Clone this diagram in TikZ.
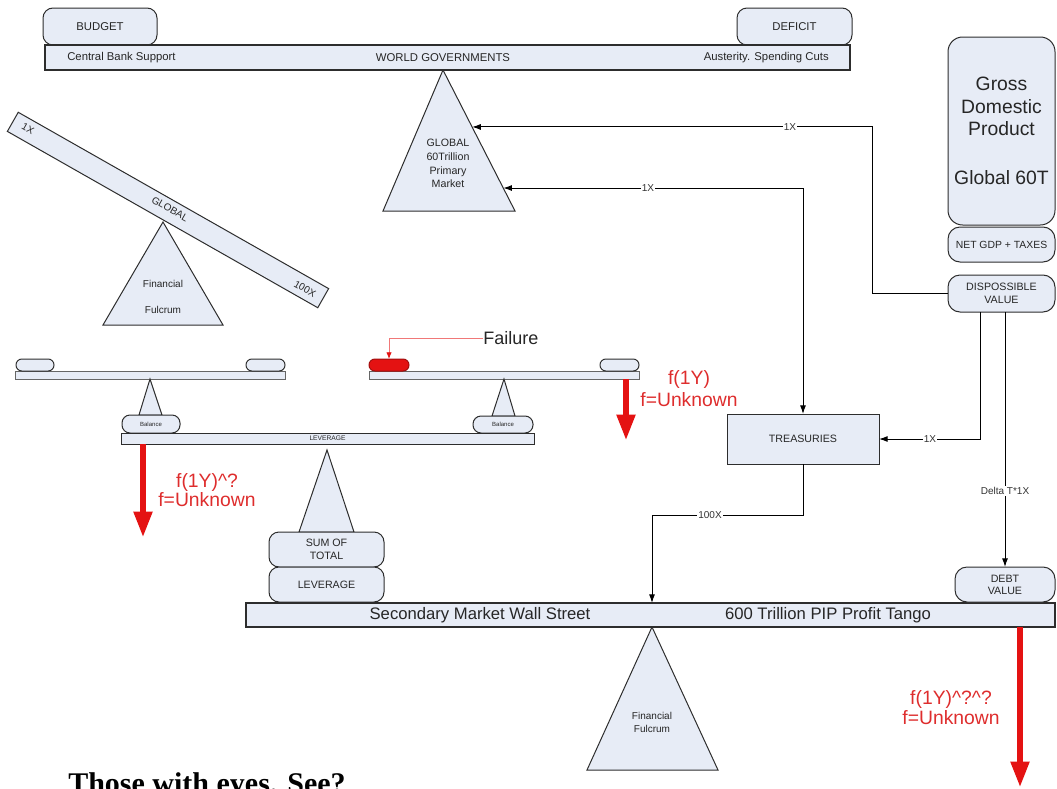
\documentclass[tikz,border=0pt]{standalone}
\usepackage{fontspec}
\setmainfont{Liberation Sans}
\newfontfamily\headserif{Liberation Serif}
\usetikzlibrary{arrows.meta,calc}

\definecolor{shade}{RGB}{231,236,246}
\definecolor{edge}{RGB}{45,45,45}
\definecolor{alarm}{RGB}{228,18,18}
\definecolor{alarmtext}{RGB}{222,45,45}
\definecolor{leader}{RGB}{240,120,120}

\newcommand{\fsz}[2]{\fontsize{#1}{#2}\selectfont}

\tikzset{
  sz/.style 2 args={minimum width=#1*0.75pt, minimum height=#2*0.75pt},
  panel/.style={draw=edge, fill=shade, line width=0.75pt, inner sep=0pt, outer sep=0pt, align=center, text=black!85},
  beamrect/.style={panel, line width=1.1pt},
  thinbar/.style={panel, draw=black!60, line width=0.6pt},
  pill/.style={panel, rounded corners=7.5pt},
  smallpill/.style={panel, rounded corners=4.4pt},
  wedge/.style={draw=edge, fill=shade, line width=0.75pt, line join=miter},
  link/.style={draw=black, line width=0.75pt, -{Latex[length=6.5pt,width=4.5pt]}},
  tag/.style={fill=white, inner sep=1pt, font=\fsz{7.5}{9}, text=black!80},
  drop/.style={draw=alarm, line width=3.8pt, -{Triangle[length=19pt,width=13.5pt]}},
  warn/.style={text=alarmtext, align=center, font=\fsz{14.5}{14.5}},
  lbl/.style={text=black!85, inner sep=0pt},
}

\begin{document}
\begin{tikzpicture}[x=0.75pt,y=-0.75pt]
\path[use as bounding box] (0,0) rectangle (1057,789);
\clip (0,0) rectangle (1057,789);

% ---------- world governments lever ----------
\coordinate (ga) at (443,70);
\coordinate (gl) at (383,211);
\coordinate (gr) at (515,211);
\path[wedge] (ga) -- (gl) -- (gr) -- cycle;
\node[lbl, align=center, font=\fsz{8}{10.3}] (gtxt) at (448,163.5) {GLOBAL\\60Trillion\\Primary\\Market};
\coordinate (gt1) at ($(ga)!0.404!(gr)$);
\coordinate (gt2) at ($(ga)!0.837!(gr)$);

\node[pill, sz={114}{37}, font=\fsz{8.5}{10}] (budget) at (100,26.5) {BUDGET};
\node[pill, sz={115}{37}, font=\fsz{8.5}{10}] (deficit) at (794.5,26.5) {DEFICIT};
\node[beamrect, sz={805}{25}] (govbar) at (447.5,57.5) {};
\node[lbl, font=\fsz{8.5}{10}, anchor=west] (cbs) at (67,57.5) {Central Bank Support};
\node[lbl, font=\fsz{8.5}{10}] (wg) at (443,57.5) {WORLD GOVERNMENTS};
\node[lbl, font=\fsz{8.5}{10}, anchor=east] (aus) at (829,57.5) {Austerity. Spending Cuts};

% ---------- tilted global lever ----------
\coordinate (fa) at (163,222);
\coordinate (fl) at (103,325);
\coordinate (fr) at (223,325);
\path[wedge] (fa) -- (fl) -- (fr) -- cycle;
\node[lbl, font=\fsz{7.5}{9}] (ff1) at (163,284) {Financial};
\node[lbl, font=\fsz{7.5}{9}] (ff2) at (163,310) {Fulcrum};
\node[panel, sz={357}{22}, rotate=-29.6] (tilt) at (168,210) {};
\node[lbl, rotate=-29.6, font=\fsz{7.5}{9}] (t1x) at (28,129) {1X};
\node[lbl, rotate=-29.6, font=\fsz{7.5}{9}] (tglob) at (170,209) {GLOBAL};
\node[lbl, rotate=-29.6, font=\fsz{7.5}{9}] (t100x) at (305,289) {100X};

% ---------- left small balance ----------
\node[thinbar, sz={270}{8}] (lbar) at (150,375) {};
\node[smallpill, sz={38}{12}] (lw1) at (35,365) {};
\node[smallpill, sz={39}{12}] (lw2) at (265.5,365) {};
\coordinate (lbl1) at (139,415);
\coordinate (lbr1) at (162,415);
\path[wedge] (lbar.south) -- (lbl1) -- (lbr1) -- cycle;
\node[panel, rounded corners=6pt, sz={58}{18}, font=\fsz{4.5}{5}] (lbal) at (151,424) {Balance};

% ---------- right small balance ----------
\node[thinbar, sz={270}{8}] (rbar) at (504,375) {};
\node[smallpill, fill=alarm, draw=alarm!70!black, sz={40}{12}] (rw1) at (389,365) {};
\node[smallpill, sz={39}{12}] (rw2) at (619.5,365) {};
\coordinate (rbl1) at (492,416);
\coordinate (rbr1) at (515,416);
\path[wedge] (rbar.south) -- (rbl1) -- (rbr1) -- cycle;
\node[panel, rounded corners=6pt, sz={60}{17}, font=\fsz{4.5}{5}] (rbal) at (503,424.5) {Balance};

% ---------- leverage lever ----------
\node[thinbar, draw=edge, sz={413}{11}, font=\fsz{5}{6}] (levbar) at (327.5,438.5) {LEVERAGE};
\coordinate (la) at (327,450);
\coordinate (ll) at (299,532);
\coordinate (lr) at (354,532);
\path[wedge] (la) -- (ll) -- (lr) -- cycle;
\node[pill, sz={115}{35}, font=\fsz{8}{9.75}] (sumtot) at (326.5,549.5) {SUM OF\\TOTAL};
\node[pill, sz={115}{35}, font=\fsz{8}{9.75}] (levpill) at (326.5,584.5) {LEVERAGE};

% ---------- secondary market lever ----------
\coordinate (sa) at (652,627);
\coordinate (sl) at (587,770);
\coordinate (sr) at (718,770);
\path[wedge] (sa) -- (sl) -- (sr) -- cycle;
\node[lbl, align=center, font=\fsz{7.5}{9.75}] (sf) at (652,722) {Financial\\Fulcrum};
\node[beamrect, sz={809}{24}] (secbar) at (650.5,615) {};
\node[lbl, font=\fsz{12.5}{14}] (sm1) at (480,615) {Secondary Market Wall Street};
\node[lbl, font=\fsz{12.5}{14}] (sm2) at (828,615) {600 Trillion PIP Profit Tango};

% ---------- right column ----------
\node[panel, rounded corners=11pt, sz={107}{188}, font=\fsz{14.5}{16.9}] (gdp) at (1001.5,131) {Gross\\Domestic\\Product\\[20pt]Global 60T};
\node[panel, rounded corners=9pt, sz={107}{35}, font=\fsz{7.8}{9}] (netgdp) at (1001.5,244.5) {NET GDP + TAXES};
\node[panel, rounded corners=9pt, sz={107}{37}, font=\fsz{8}{9.75}] (dv) at (1001.5,293.5) {DISPOSSIBLE\\VALUE};
\node[panel, sz={152}{50}, font=\fsz{8}{10}] (treas) at (803,439) {TREASURIES};
\node[panel, rounded corners=9pt, sz={100}{35}, font=\fsz{8}{9}] (debt) at (1005,584.5) {DEBT\\VALUE};

% ---------- flows ----------
\draw[link] (dv.west) -- (872,293.5) |- (gt1);
\draw[link, {Latex[length=6.5pt,width=4.5pt]}-{Latex[length=6.5pt,width=4.5pt]}] (gt2) -| (treas.north);
\draw[link] ($(dv.south)+(-21.5,0)$) |- (treas.east);
\draw[link] (dv.south -| debt.north) -- (debt.north);
\draw[link] (treas.south) -- ++(0,51) -| (secbar.north -| sa);

\node[tag] (lb1) at (790,127) {1X};
\node[tag] (lb2) at (648,188) {1X};
\node[tag] (lb3) at (930,439) {1X};
\node[tag] (lb4) at (1005,491) {Delta T*1X};
\node[tag] (lb5) at (710,515) {100X};

% ---------- failure and drops ----------
\node[lbl, font=\fsz{13.5}{15}, anchor=west] (fail) at (483,338) {Failure};
\draw[draw=leader, line width=0.6pt, -{Latex[length=5pt,width=4pt,color=alarm]}] (fail.west) -| (rw1.north);

\coordinate (d1) at (143,537);
\coordinate (d2) at (626,440);
\coordinate (d3) at (1020,787);
\draw[drop] (levbar.south -| d1) -- (d1);
\draw[drop] (rbar.south -| d2) -- (d2);
\draw[drop] (secbar.south -| d3) -- (d3);

\node[warn] (w1) at (207,490) {f(1Y)\textasciicircum?\\f=Unknown};
\node[warn, font=\fsz{14.5}{16.5}] (w2) at (689,389) {f(1Y)\\f=Unknown};
\node[warn] (w3) at (951,707.5) {f(1Y)\textasciicircum?\textasciicircum?\\f=Unknown};

% ---------- motto ----------
\node[font=\headserif\bfseries\fsz{22.5}{26}, anchor=base west, inner sep=0pt] (motto) at (68,793) {Those with eyes. See?};
\end{tikzpicture}
\end{document}
